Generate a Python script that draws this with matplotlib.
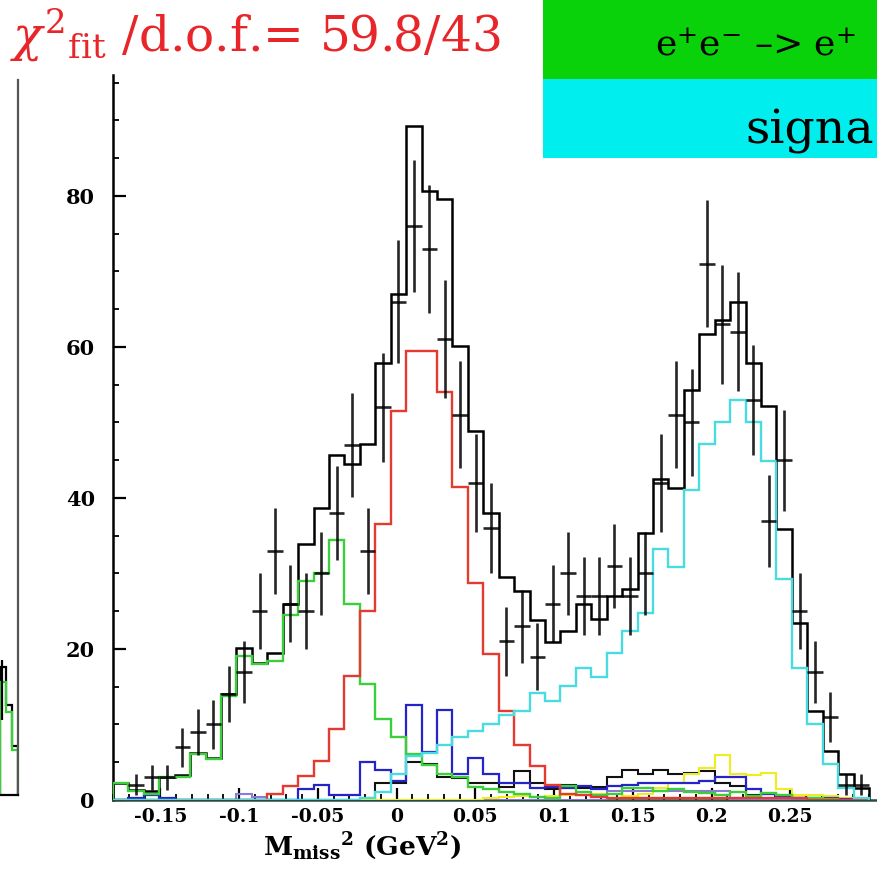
import numpy as np
import matplotlib
matplotlib.use('Agg')
import matplotlib.pyplot as plt
from matplotlib.patches import Rectangle
from matplotlib.ticker import MultipleLocator, FixedLocator, FuncFormatter

plt.rcParams['font.family'] = 'DejaVu Serif'
plt.rcParams['mathtext.fontset'] = 'dejavuserif'
plt.rcParams['axes.unicode_minus'] = False

# binning of the M_miss^2 histogram (GeV^2)
x_lo, x_hi, nbins = -0.18, 0.30, 49
edges = np.linspace(x_lo, x_hi, nbins + 1)
centers = 0.5 * (edges[:-1] + edges[1:])
half = 0.5 * (edges[1] - edges[0])

# data (counts) and errors
data = [0, 2, 3, 3, 7, 9, 10, 14, 17, 25, 33, 26, 25, 30, 38, 47, 33, 52, 66, 76,
        73, 61, 51, 42, 36, 21, 23, 19, 26, 30, 27, 27, 31, 27, 30, 42, 51, 50, 71, 63,
        62, 53, 37, 45, 25, 17, 11, 2, 2]
err = [0, 1.4, 1.7, 1.7, 2.6, 3.0, 3.2, 3.7, 4.1, 5.0, 5.7, 5.1, 5.0, 5.5, 6.2, 6.9, 5.7, 7.2, 8.1, 8.7,
       8.5, 7.8, 7.1, 6.5, 6.0, 4.6, 4.8, 4.4, 5.1, 5.5, 5.2, 5.2, 5.6, 5.2, 5.5, 6.5, 7.1, 7.1, 8.4, 7.9,
       7.9, 7.3, 6.1, 6.7, 5.0, 4.1, 3.3, 1.4, 1.4]

# fit: total and components
fit_total = [2.3, 1.3, 1.2, 3.1, 3.3, 6.2, 5.6, 14.0, 20.1, 18.2,
             19.4, 25.9, 33.9, 38.7, 45.7, 44.5, 47.2, 57.9, 67.0, 89.2,
             80.6, 79.6, 60.1, 48.9, 38.0, 29.5, 27.7, 23.9, 20.9, 22.4,
             26.0, 24.0, 27.0, 28.0, 35.3, 42.5, 41.3, 54.3, 61.7, 63.5,
             66.0, 57.9, 52.2, 35.9, 23.5, 11.8, 6.5, 3.4, 1.6]
green = [2.3, 1.2, 0.8, 3.0, 3.0, 6.1, 5.4, 13.8, 19.1, 18.0,
         18.4, 24.5, 29.0, 30.1, 34.4, 26.0, 15.3, 10.7, 8.3, 6.1,
         4.6, 3.4, 3.0, 1.7, 1.5, 1.0, 0.8, 0.4, 0.3, 1.8,
         1.0, 0.6, 0.8, 1.6, 1.6, 1.2, 1.4, 1.0, 0.9, 0.6,
         1.0, 0.5, 0.9, 0.6, 0.3, 0.2, 0.1, 0.0, 0.0]
red = [0, 0, 0, 0, 0, 0, 0, 0, 0, 0,
       0.8, 1.9, 3.2, 5.2, 9.4, 16.4, 25.0, 36.5, 51.5, 59.5,
       59.5, 54.0, 41.5, 28.8, 19.3, 11.8, 7.3, 4.5, 2.0, 0.8,
       0.7, 0.4, 0.3, 0.3, 0.3, 0.3, 0.3, 0.3, 0.3, 0.3,
       0.3, 0.3, 0.3, 0.3, 0.2, 0, 0, 0, 0]
cyan = [0, 0, 0, 0, 0, 0, 0, 0, 0, 0,
        0, 0, 0, 0, 0, 0, 0.3, 1.0, 3.5, 5.8,
        6.2, 7.3, 8.3, 9.2, 10.1, 11.2, 11.8, 14.2, 13.1, 15.1,
        17.5, 16.3, 19.5, 22.4, 24.8, 33.3, 30.9, 41.0, 47.2, 50.0,
        53.0, 50.0, 44.9, 29.3, 17.5, 10.0, 4.8, 1.6, 0.3]
blue = [0, 0.3, 0.6, 0.2, 0, 0, 0, 0, 0, 0,
        0, 0, 1.4, 2.0, 0.7, 0.7, 5.0, 4.0, 2.5, 12.6,
        6.3, 11.9, 3.4, 5.6, 3.4, 2.3, 2.2, 1.6, 1.7, 1.6,
        1.8, 1.5, 1.8, 2.0, 2.2, 2.2, 2.2, 2.3, 2.5, 3.0,
        3.0, 1.4, 0.8, 0.4, 0.3, 0.2, 0.2, 0.1, 0]
other = [0, 0, 0, 0, 0, 0, 0, 0, 0, 0,
         0, 0, 0, 0, 0, 0, 0.2, 2.2, 2.2, 5.0,
         4.8, 3.0, 2.9, 2.2, 2.2, 1.7, 3.8, 2.2, 1.4, 2.0,
         1.6, 1.7, 3.0, 4.0, 3.4, 4.0, 3.4, 3.6, 3.8, 2.2,
         1.8, 0.6, 0.8, 0.5, 0.2, 0.1, 0, 0, 0]
yellow = [0, 0, 0, 0, 0, 0, 0, 0, 0, 0,
          0, 0, 0, 0, 0, 0, 0, 0, 0, 0,
          0, 0, 0, 0, 0.3, 0.4, 0.5, 0.4, 0.5, 0.6,
          0.6, 0.8, 0.8, 0.5, 0.8, 1.6, 2.2, 3.4, 4.3, 6.0,
          3.4, 3.3, 3.6, 1.4, 0.6, 0.6, 0.5, 0.3, 0]
violet = [0, 0, 0, 0, 0, 0, 0, 0, 0.8, 0.4,
          0, 0, 0, 0, 0, 0, 0, 0, 0, 0,
          0, 0, 0, 0, 0, 0, 0, 0, 0, 0,
          0, 0, 1.2, 1.2, 1.2, 1.2, 1.2, 1.2, 1.2, 1.2,
          0, 0, 0, 0, 0, 0, 0, 0, 0]

# neighbouring panel (only its right edge is visible)
left_edges = [0, 1, 2, 3]
left_green = [15.0, 11.0, 6.0]
left_fit = [17.0, 12.0, 6.5]
left_data_x = [0.3]
left_data = [14.0]
left_err = [4.0]

W, H = 877, 871
fig = plt.figure(figsize=(W / 100, H / 100), dpi=100)

# ---- left partial panel
ax0 = fig.add_axes([0, 76 / H, 18 / W, 715 / H])
ax0.set_xlim(0, 3)
ax0.set_ylim(0, 95)
ax0.stairs(left_fit, left_edges, color='black', lw=1.6)
ax0.stairs(left_green, left_edges, color='#3ccf3c', lw=1.6)
ax0.errorbar(left_data_x, left_data, yerr=left_err, fmt='none', ecolor='black', elinewidth=1.6)
for s in ['top', 'left']:
    ax0.spines[s].set_visible(False)
ax0.spines['right'].set_color('#555555')
ax0.spines['right'].set_linewidth(1.6)
ax0.spines['bottom'].set_linewidth(1.6)
ax0.set_xticks([])
ax0.set_yticks([])
ax0.patch.set_alpha(0)

# ---- main panel
ax = fig.add_axes([113 / W, 71 / H, 764 / W, 725 / H])
ax.set_xlim(x_lo, x_lo + 764 / 1575)
ax.set_ylim(0, 96)

ax.stairs(fit_total, edges, color='black', lw=1.8, zorder=3)
ax.stairs(violet, edges, color='#8f78d8', lw=1.5, zorder=3)
ax.stairs(other, edges, color='#111111', lw=1.5, zorder=3)
ax.stairs(yellow, edges, color='#eeee1e', lw=1.5, zorder=4)
ax.stairs(blue, edges, color='#2424c8', lw=1.6, zorder=4)
ax.stairs(green, edges, color='#3ccf3c', lw=1.7, zorder=4)
ax.stairs(red, edges, color='#e63a30', lw=1.7, zorder=4)
ax.stairs(cyan, edges, color='#48dbe0', lw=1.7, zorder=4)

d = np.array(data, dtype=float)
m = d > 0
ax.errorbar(centers[m], d[m], yerr=np.array(err)[m], xerr=half, fmt='none',
            ecolor='black', elinewidth=1.9, capsize=0, zorder=5, alpha=0.85)

for s in ['top', 'right']:
    ax.spines[s].set_visible(False)
ax.spines['left'].set_linewidth(1.8)
ax.spines['bottom'].set_linewidth(1.8)
ax.spines['bottom'].set_color('#2a4a44')

ax.xaxis.set_major_locator(FixedLocator([-0.15, -0.1, -0.05, 0, 0.05, 0.1, 0.15, 0.2, 0.25]))
ax.xaxis.set_minor_locator(MultipleLocator(0.01))
ax.yaxis.set_major_locator(MultipleLocator(20))
ax.yaxis.set_minor_locator(MultipleLocator(5))
fmt = FuncFormatter(lambda v, p: ('%g' % round(v, 3)) if abs(v) > 1e-9 else '0')
ax.xaxis.set_major_formatter(fmt)
ax.tick_params(which='major', direction='in', length=9, width=1.6)
ax.tick_params(which='minor', direction='in', length=4.5, width=1.3)
ax.tick_params(axis='y', which='both', pad=13)
ax.tick_params(axis='x', which='both', pad=6)
for lab in ax.get_xticklabels():
    lab.set_fontweight('bold')
    lab.set_fontsize(13.5)
for lab in ax.get_yticklabels():
    lab.set_fontweight('bold')
    lab.set_fontsize(15)

ax.set_xlabel(r'$\mathbf{M}_{\mathbf{miss}}{}^{\mathbf{2}}$ (GeV$^{\mathbf{2}}$)',
              fontsize=19, fontweight='bold')
ax.xaxis.set_label_coords((362 - 113) / 764, -0.042)

# ---- legend boxes (cropped) and fit quality
fig.add_artist(Rectangle((543 / W, 1 - 79 / H), 1, 79 / H, transform=fig.transFigure,
                         facecolor='#0ad20a', edgecolor='none', zorder=6))
fig.add_artist(Rectangle((543 / W, 1 - 158 / H), 1, 79 / H, transform=fig.transFigure,
                         facecolor='#00eeee', edgecolor='none', zorder=6))
fig.text(655 / W, 1 - 45 / H, r'e$^{+}$e$^{-}$ –> e$^{+}$', fontsize=26,
         va='center', ha='left', color='black', zorder=7)
fig.text(745 / W, 1 - 143 / H, 'signa', fontsize=34, va='baseline', ha='left',
         color='black', zorder=7)
fig.text(10 / W, 1 - 52 / H, r'$\chi^{2}{}_{\rm fit}$ /d.o.f.= 59.8/43', fontsize=35,
         va='baseline', ha='left', color='#e8262a')

fig.savefig('out.png', dpi=100)
